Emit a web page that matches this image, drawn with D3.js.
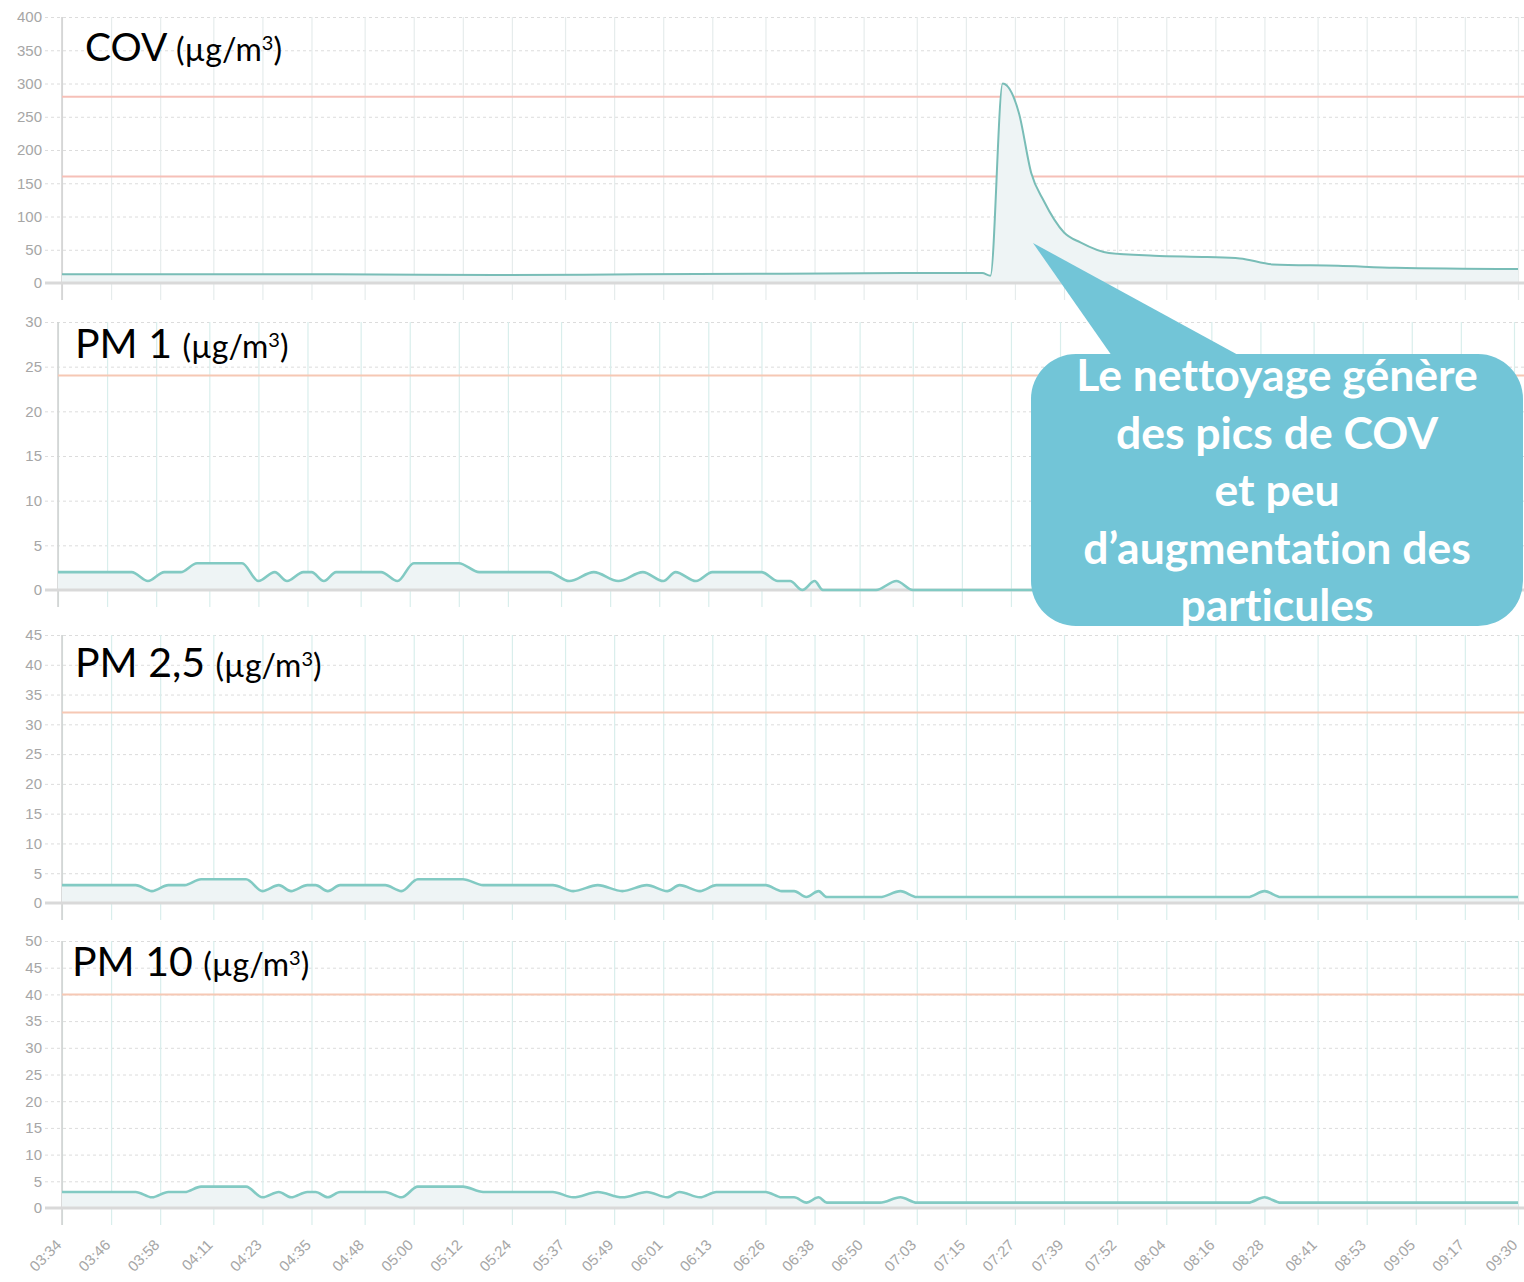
<!DOCTYPE html>
<html>
<head>
<meta charset="utf-8">
<script src="https://cdn.jsdelivr.net/npm/d3@7"></script>
<style>
  body { margin: 0; background: #fff; }
  .tick text { font-family: "Liberation Sans", Arial, sans-serif; fill: #a6a6a6; }
  .title { font-family: Lato, "Open Sans", sans-serif; fill: #000; font-variant-ligatures: none; }
  .bubble { font-family: Lato, "Open Sans", sans-serif; font-weight: 700; fill: #fff; font-variant-ligatures: none; }
</style>
</head>
<body>
<script>
// time labels on the x axis
var timeLabels = ["03:34", "03:46", "03:58", "04:11", "04:23", "04:35", "04:48", "05:00", "05:12", "05:24",
    "05:37", "05:49", "06:01", "06:13", "06:26", "06:38", "06:50", "07:03", "07:15", "07:27",
    "07:39", "07:52", "08:04", "08:16", "08:28", "08:41", "08:53", "09:05", "09:17", "09:30"];

// y tick labels per panel
var covTicks = [0, 50, 100, 150, 200, 250, 300, 350, 400];
var pm1Ticks = [0, 5, 10, 15, 20, 25, 30];
var pm25Ticks = [0, 5, 10, 15, 20, 25, 30, 35, 40, 45];
var pm10Ticks = [0, 5, 10, 15, 20, 25, 30, 35, 40, 45, 50];

// threshold lines
var covLimits = [280, 160];
var pm1Limits = [24];
var pm25Limits = [32];
var pm10Limits = [40];

// readings [time, value]
var covData = [["03:34", 13], ["04:10", 13], ["04:40", 13], ["05:20", 12], ["05:55", 13], ["06:30", 14],
    ["07:00", 15], ["07:19", 15], ["07:21", 11], ["07:24", 300], ["07:25", 297], ["07:28", 255],
    ["07:31", 165], ["07:34", 124], ["07:39", 76], ["07:43", 61], ["07:50", 45], ["08:01", 41],
    ["08:14", 39], ["08:22", 37], ["08:30", 28], ["08:46", 26], ["09:00", 23], ["09:30", 21]];

var pm1Data = [["03:34", 2], ["03:52", 2], ["03:56", 1], ["04:00", 2], ["04:04", 2], ["04:08", 3],
    ["04:19", 3], ["04:23", 1], ["04:27", 2], ["04:30", 1], ["04:34", 2], ["04:36", 2], ["04:39", 1],
    ["04:42", 2], ["04:53", 2], ["04:57", 1], ["05:01", 3], ["05:12", 3], ["05:17", 2], ["05:34", 2],
    ["05:39", 1], ["05:45", 2], ["05:51", 1], ["05:57", 2], ["06:02", 1], ["06:05", 2], ["06:10", 1],
    ["06:14", 2], ["06:26", 2], ["06:30", 1], ["06:33", 1], ["06:36", 0], ["06:39", 1], ["06:41", 0],
    ["06:54", 0], ["06:59", 1], ["07:03", 0], ["08:24", 0], ["08:28", 1], ["08:32", 0], ["09:30", 0]];

var pm25Data = [["03:34", 3], ["03:52", 3], ["03:56", 2], ["04:00", 3], ["04:04", 3], ["04:08", 4],
    ["04:19", 4], ["04:23", 2], ["04:27", 3], ["04:30", 2], ["04:34", 3], ["04:36", 3], ["04:39", 2],
    ["04:42", 3], ["04:53", 3], ["04:57", 2], ["05:01", 4], ["05:12", 4], ["05:17", 3], ["05:34", 3],
    ["05:39", 2], ["05:45", 3], ["05:51", 2], ["05:57", 3], ["06:02", 2], ["06:05", 3], ["06:10", 2],
    ["06:14", 3], ["06:26", 3], ["06:30", 2], ["06:33", 2], ["06:36", 1], ["06:39", 2], ["06:41", 1],
    ["06:54", 1], ["06:59", 2], ["07:03", 1], ["08:24", 1], ["08:28", 2], ["08:32", 1], ["09:30", 1]];

var pm10Data = [["03:34", 3], ["03:52", 3], ["03:56", 2], ["04:00", 3], ["04:04", 3], ["04:08", 4],
    ["04:19", 4], ["04:23", 2], ["04:27", 3], ["04:30", 2], ["04:34", 3], ["04:36", 3], ["04:39", 2],
    ["04:42", 3], ["04:53", 3], ["04:57", 2], ["05:01", 4], ["05:12", 4], ["05:17", 3], ["05:34", 3],
    ["05:39", 2], ["05:45", 3], ["05:51", 2], ["05:57", 3], ["06:02", 2], ["06:05", 3], ["06:10", 2],
    ["06:14", 3], ["06:26", 3], ["06:30", 2], ["06:33", 2], ["06:36", 1], ["06:39", 2], ["06:41", 1],
    ["06:54", 1], ["06:59", 2], ["07:03", 1], ["08:24", 1], ["08:28", 2], ["08:32", 1], ["09:30", 1]];

var bubbleLines = ["Le nettoyage génère", "des pics de COV", "et peu", "d’augmentation des", "particules"];

var svgWidth = 1524;
var svgHeight = 1282;
var plotWidth = 1456;
var gridLeft = 45;

function clock(s) {
    var p = s.split(":");
    return +p[0] * 60 + +p[1];
}
var t0 = clock(timeLabels[0]);
function minutes(s) { return clock(s) - t0; }
var tickMinutes = timeLabels.map(minutes);
var span = d3.max(tickMinutes);

var svg = d3.select("body")
    .append("svg")
    .attr("width", svgWidth)
    .attr("height", svgHeight);

var panels = [
    { title: "COV", data: covData, ticks: covTicks, limits: covLimits, left: 62, top: 17, zero: 283,
      titleX: 85, titleY: 61, line: "#79bdb7", lineW: 2, vgrid: "#e6ecec" },
    { title: "PM 1", data: pm1Data, ticks: pm1Ticks, limits: pm1Limits, left: 58, top: 322, zero: 590,
      titleX: 75, titleY: 358, line: "#82cac3", lineW: 2.6, vgrid: "#d9eeec" },
    { title: "PM 2,5", data: pm25Data, ticks: pm25Ticks, limits: pm25Limits, left: 62, top: 635, zero: 903,
      titleX: 75, titleY: 677, line: "#82cac3", lineW: 2.6, vgrid: "#d9eeec" },
    { title: "PM 10", data: pm10Data, ticks: pm10Ticks, limits: pm10Limits, left: 62, top: 941, zero: 1208,
      titleX: 72, titleY: 976, line: "#82cac3", lineW: 2.6, vgrid: "#d9eeec" }
];

var lastX;

panels.forEach(function (p, i) {
    var xScale = d3.scaleLinear().domain([0, span]).range([p.left, p.left + plotWidth]);
    var yScale = d3.scaleLinear().domain([0, d3.max(p.ticks)]).range([p.zero, p.top]);
    lastX = xScale;
    var g = svg.append("g").attr("class", "panel");

    // horizontal dotted grid and labels
    g.append("g")
        .attr("transform", `translate(${gridLeft},0)`)
        .call(d3.axisLeft(yScale).tickValues(p.ticks).tickSize(-(svgWidth - gridLeft)).tickPadding(3))
        .call(function (a) {
            a.select(".domain").remove();
            a.selectAll("line").attr("stroke", "#dcdcdc").attr("stroke-dasharray", "3,3");
            a.selectAll("text").attr("font-size", 15);
        });

    // vertical grid
    g.append("g")
        .attr("transform", `translate(0,${p.zero + 17})`)
        .call(d3.axisBottom(xScale).tickValues(tickMinutes).tickSize(-(p.zero + 17 - p.top)).tickFormat(""))
        .call(function (a) {
            a.select(".domain").remove();
            a.selectAll("line").attr("stroke", p.vgrid).attr("stroke-width", 1.2);
        });

    // y axis line
    g.append("line")
        .attr("x1", p.left).attr("x2", p.left)
        .attr("y1", p.top).attr("y2", p.zero + 17)
        .attr("stroke", "#cfcfcf").attr("stroke-width", 1.5);

    // threshold lines
    g.selectAll(".limit")
        .data(p.limits)
        .enter()
        .append("line")
        .attr("class", "limit")
        .attr("x1", p.left).attr("x2", svgWidth)
        .attr("y1", function (d) { return yScale(d); })
        .attr("y2", function (d) { return yScale(d); })
        .attr("stroke", i == 0 ? "#f6c0b8" : "#f6c8b4")
        .attr("stroke-width", 2);

    var area = d3.area()
        .curve(d3.curveMonotoneX)
        .x(function (d) { return xScale(minutes(d[0])); })
        .y0(yScale(0))
        .y1(function (d) { return yScale(d[1]); });

    var line = d3.line()
        .curve(d3.curveMonotoneX)
        .x(function (d) { return xScale(minutes(d[0])); })
        .y(function (d) { return yScale(d[1]); });

    g.append("path")
        .datum(p.data)
        .attr("d", area)
        .attr("fill", "#eef4f5");

    // zero line
    g.append("line")
        .attr("x1", gridLeft).attr("x2", svgWidth)
        .attr("y1", yScale(0)).attr("y2", yScale(0))
        .attr("stroke", "#d9d9d9").attr("stroke-width", 3);

    g.append("path")
        .datum(p.data)
        .attr("d", line)
        .attr("fill", "none")
        .attr("stroke", p.line)
        .attr("stroke-width", p.lineW);

    var title = g.append("text")
        .attr("class", "title")
        .attr("x", p.titleX)
        .attr("y", p.titleY)
        .attr("font-size", i == 0 ? 39 : 41)
        .text(p.title + " ");
    title.append("tspan")
        .attr("font-size", 32)
        .text("(µg/m");
    title.append("tspan")
        .attr("font-size", 20)
        .attr("dy", -11)
        .text("3");
    title.append("tspan")
        .attr("font-size", 32)
        .attr("dy", 11)
        .text(")");
});

// time labels under the last panel
svg.append("g")
    .attr("transform", "translate(0,1222)")
    .call(d3.axisBottom(lastX).tickValues(tickMinutes).tickSize(0)
        .tickFormat(function (d, i) { return timeLabels[i]; }))
    .call(function (a) {
        a.select(".domain").remove();
        a.selectAll("text")
            .attr("font-size", 15)
            .attr("text-anchor", "end")
            .attr("dy", "0.35em")
            .attr("transform", "translate(-6,18) rotate(-45)");
    });

// callout bubble
var bubble = svg.append("g");
bubble.append("path")
    .attr("d", "M1033,243 L1112,356 L1240,356 Z")
    .attr("fill", "#72c5d7");
bubble.append("rect")
    .attr("x", 1031).attr("y", 354)
    .attr("width", 492).attr("height", 272)
    .attr("rx", 45).attr("ry", 45)
    .attr("fill", "#72c5d7");
bubble.selectAll("text")
    .data(bubbleLines)
    .enter()
    .append("text")
    .attr("class", "bubble")
    .attr("x", 1277)
    .attr("y", function (d, i) { return 391 + i * 57.5; })
    .attr("text-anchor", "middle")
    .attr("font-size", 44.5)
    .text(function (d) { return d; });
</script>
</body>
</html>
